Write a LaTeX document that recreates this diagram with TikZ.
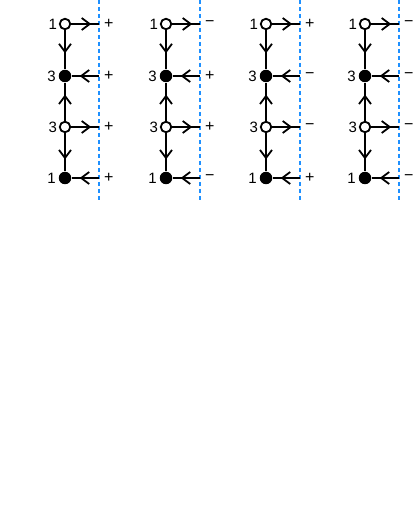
\documentclass[tikz,border=0pt]{standalone}
\usepackage{fontspec}
\setmainfont{Liberation Sans}
\usetikzlibrary{arrows.meta,decorations.markings,positioning}
\tikzset{
  wvert/.style={circle,draw,fill=white,line width=1.8pt,inner sep=0pt,minimum size=10.5pt},
  bvert/.style={circle,fill=black,inner sep=0pt,minimum size=12.5pt},
  midarr/.style={decoration={markings,mark=at position #1 with {\arrow{Straight Barb[length=8pt,width=12pt,line width=1.8pt]}}},postaction={decorate}},
  cut/.style={draw={rgb,255:red,30;green,144;blue,255},line width=2pt,dash pattern=on 4pt off 3pt},
  sgn/.style={font=\fontsize{16}{17}\selectfont,inner sep=0pt},
  lbl/.style={font=\fontsize{15}{16}\selectfont,inner sep=1pt}
}
\begin{document}
\begin{tikzpicture}[x=1pt,y=-1pt,line width=2pt]
  \useasboundingbox (0,0) rectangle (416,510);
  \foreach \x/\sa/\sb/\sc/\sd [count=\i] in {65/+/+/+/+, 166/−/+/+/−, 266/+/−/−/+, 365/−/−/−/−}{
    % cut line
    \coordinate (t\i) at (\x+34,0);
    \coordinate (b\i) at (\x+34,202);
    \draw[cut] (t\i)--(b\i);
    % vertices
    \node[wvert] (v\i1) at (\x,24) {};
    \node[bvert] (v\i2) at (\x,76) {};
    \node[wvert] (v\i3) at (\x,127) {};
    \node[bvert] (v\i4) at (\x,178) {};
    \node[lbl,left=0pt of v\i1] (n\i1) {1};
    \node[lbl,left=0pt of v\i2] (n\i2) {3};
    \node[lbl,left=0pt of v\i3] (n\i3) {3};
    \node[lbl,left=0pt of v\i4] (n\i4) {1};
    \foreach \r in {1,...,4} \coordinate (e\i\r) at (t\i|-v\i\r);
    % edges
    \draw[midarr=.6] (v\i1)--(v\i2);
    \draw[midarr=.7] (v\i3)--(v\i2);
    \draw[midarr=.7] (v\i3)--(v\i4);
    \draw[midarr=.72] (v\i1)--(e\i1);
    \draw[midarr=.72] (e\i2)--(v\i2);
    \draw[midarr=.72] (v\i3)--(e\i3);
    \draw[midarr=.72] (e\i4)--(v\i4);
    % signs
    \node[sgn,right=4pt of e\i1] (s\i1) {\sa};
    \node[sgn,right=4pt of e\i2] (s\i2) {\sb};
    \node[sgn,right=4pt of e\i3] (s\i3) {\sc};
    \node[sgn,right=4pt of e\i4] (s\i4) {\sd};
  }
\end{tikzpicture}
\end{document}
